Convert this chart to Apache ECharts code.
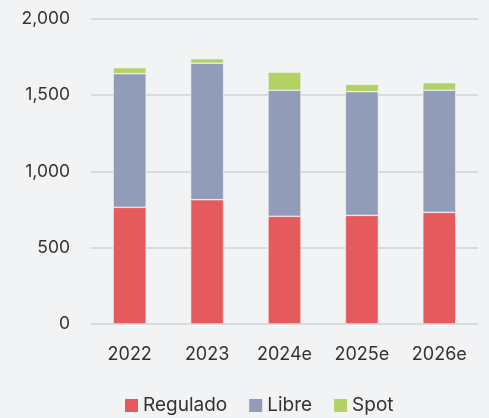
<!DOCTYPE html>
<html>
<head>
<meta charset="utf-8">
<script src="https://cdn.jsdelivr.net/npm/echarts@6/dist/echarts.min.js"></script>
<style>
html,body{margin:0;padding:0;background:#F2F3F5;}
#c{width:489px;height:418px;}
</style>
</head>
<body>
<div id="c"></div>
<script>
const categories = ['2022', '2023', '2024e', '2025e', '2026e'];
const regulado = [764, 814, 705, 711, 731];
const libre = [875, 893, 825, 810, 799];
const spot = [39, 30, 118, 48, 50];
const yTicks = [0, 500, 1000, 1500, 2000];

const font = 'Inter, "Open Sans", sans-serif';
const chart = echarts.init(document.getElementById('c'), null, {renderer: 'canvas'});
const seriesDef = [
  {name: 'Regulado', data: regulado, color: '#E55A5D'},
  {name: 'Libre', data: libre, color: '#919CB9'},
  {name: 'Spot', data: spot, color: '#B2D263'}
];
chart.setOption({
  backgroundColor: '#F2F3F5',
  animation: false,
  textStyle: {fontFamily: font},
  grid: {left: 91, right: 11, top: 18.5, bottom: 94},
  legend: {
    top: 391,
    left: 118,
    itemWidth: 15,
    itemHeight: 15,
    itemGap: 20,
    icon: 'rect',
    textStyle: {fontSize: 19, color: '#333', fontFamily: font, padding: [0, 0, 0, -1]},
    data: seriesDef.map(s => s.name)
  },
  xAxis: {
    type: 'category',
    data: categories,
    axisLine: {show: false},
    axisTick: {show: false},
    axisLabel: {fontSize: 18, color: '#333', margin: 22, fontFamily: font}
  },
  yAxis: {
    type: 'value',
    min: yTicks[0],
    max: yTicks[yTicks.length - 1],
    interval: 500,
    axisLine: {show: false},
    axisTick: {show: false},
    splitLine: {lineStyle: {color: '#DADBDD', width: 2}},
    axisLabel: {fontSize: 17.5, color: '#333', margin: 21, fontFamily: font,
      formatter: v => v.toLocaleString('en-US')}
  },
  series: seriesDef.map(s => ({
    name: s.name,
    type: 'bar',
    stack: 'total',
    barWidth: 33,
    data: s.data,
    itemStyle: {color: s.color, borderColor: '#F2F3F5', borderWidth: 0.6}
  }))
});
</script>
</body>
</html>
